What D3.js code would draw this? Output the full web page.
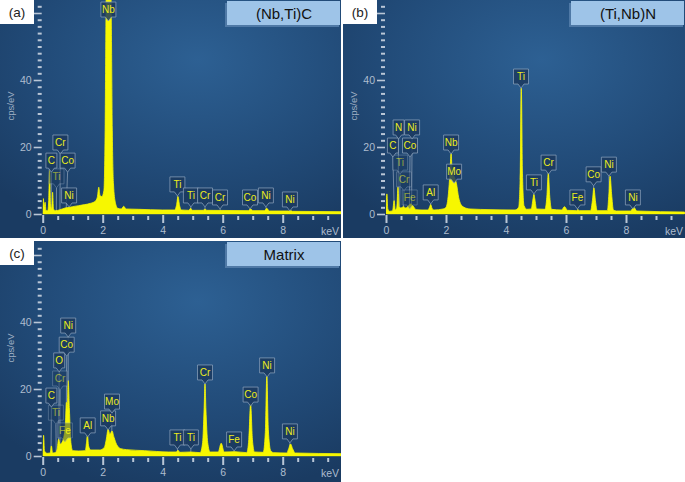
<!DOCTYPE html>
<html>
<head>
<meta charset="utf-8">
<script src="https://cdnjs.cloudflare.com/ajax/libs/d3/7.8.5/d3.min.js"></script>
<style>
body { margin: 0; background: #fff; }
svg { display: block; font-family: "Liberation Sans", Arial, sans-serif; }
</style>
</head>
<body>
<div id="chart"></div>
<script>
// spectra: [keV, cps/eV]
var specA = [[0.00,0.3],[0.02,4.6],[0.05,2.0],[0.08,3.5],[0.11,1.0],[0.17,1.0],[0.20,4],[0.23,13],[0.26,3],
    [0.30,1.5],[0.33,6.5],[0.36,1.5],[0.42,1.0],[0.55,1.2],[0.65,1.5],[0.75,1.8],[0.90,2.0],[1.00,2.2],
    [1.20,2.5],[1.40,2.8],[1.60,3.2],[1.75,3.8],[1.82,5],[1.87,8],[1.91,5.5],[1.97,5.2],[2.04,7],[2.08,25],
    [2.11,60],[2.14,85],[2.25,85],[2.29,55],[2.32,25],[2.36,9],[2.42,3.5],[2.50,1.7],[2.62,1.5],[2.70,2.3],
    [2.78,1.5],[3.20,1.4],[4.00,1.2],[4.40,1.2],[4.46,2.6],[4.51,5.2],[4.56,2.6],[4.62,1.2],[4.87,1.1],
    [4.93,1.7],[4.99,1.1],[5.35,1.1],[5.41,1.5],[5.47,1.1],[6.85,1.0],[6.93,1.5],[7.01,1.0],[7.39,1.0],
    [7.47,1.7],[7.55,0.9],[8.20,0.9],[8.26,1.1],[8.32,0.8],[9.95,0.7]];

var specB = [[0.00,0.5],[0.03,6],[0.06,1.5],[0.12,0.8],[0.22,1],[0.27,4],[0.31,1.2],[0.36,2],[0.40,8],
    [0.44,2],[0.50,1.8],[0.58,2.2],[0.66,1.8],[0.75,2.5],[0.82,3.0],[0.90,2.4],[1.00,1.3],[1.20,1.2],
    [1.40,1.2],[1.45,2.0],[1.49,2.8],[1.53,1.8],[1.60,1.2],[1.90,1.5],[2.00,2.0],[2.08,6],[2.13,12],
    [2.17,18],[2.21,12],[2.28,11],[2.35,9],[2.42,5],[2.50,2.8],[2.60,2],[2.80,1.5],[3.50,1.3],[4.30,1.2],
    [4.42,2],[4.47,10],[4.51,37.5],[4.55,12],[4.60,2.5],[4.70,1.4],[4.84,1.5],[4.90,4.5],[4.93,5.8],
    [4.96,4.5],[5.02,1.5],[5.30,1.4],[5.36,5],[5.41,12.2],[5.46,5],[5.52,1.4],[5.85,1.2],[5.95,2.2],
    [6.05,1.1],[6.35,1.0],[6.40,1.3],[6.45,1.0],[6.82,1.0],[6.88,4],[6.93,7.8],[6.98,4],[7.04,1.0],
    [7.38,1.0],[7.43,6],[7.47,11.3],[7.52,6],[7.58,1.2],[7.68,0.9],[8.15,0.9],[8.26,2.0],[8.36,0.9],
    [9.95,0.6]];

var specC = [[0.00,0.5],[0.03,6.2],[0.06,1.5],[0.15,0.8],[0.25,0.9],[0.29,3.0],[0.33,0.9],[0.42,1.0],
    [0.48,2],[0.53,5.0],[0.58,3.5],[0.64,4],[0.70,5.5],[0.76,10],[0.79,16],[0.82,14],[0.85,22.5],
    [0.89,14],[0.94,4],[1.00,1.6],[1.20,1.5],[1.42,1.6],[1.46,4],[1.49,6.2],[1.53,3],[1.60,1.8],
    [1.90,1.8],[2.05,2.5],[2.12,5],[2.18,8],[2.24,6.5],[2.31,7.5],[2.38,5.5],[2.46,3.5],[2.60,2.2],
    [2.80,1.9],[3.40,1.6],[4.20,1.2],[4.45,1.2],[4.51,1.7],[4.57,1.1],[4.93,1.2],[5.25,1.0],[5.33,4],
    [5.38,14],[5.41,21.5],[5.44,14],[5.50,4],[5.58,1.2],[5.85,1.2],[5.95,3.8],[6.05,1.2],[6.40,1.3],
    [6.80,1.0],[6.87,5],[6.93,15.5],[6.99,5],[7.06,1.2],[7.35,1.1],[7.42,7],[7.47,23.8],[7.52,8],
    [7.60,1.6],[7.70,1.0],[8.13,0.9],[8.20,2.2],[8.26,3.6],[8.33,2.2],[8.42,0.9],[9.95,0.7]];

// peak labels: [element, line keV, label keV, label level cps, faint]
var labelsA = [['Nb',2.17,2.19,58.8],['Cr',0.573,0.59,19.1],['Ti',0.452,0.46,9.0,1],['C',0.277,0.29,13.7],
    ['Co',0.776,0.83,13.7],['Ni',0.851,0.88,3.3],['Ti',4.51,4.49,6.6],['Ti',4.93,4.94,3.3],
    ['Cr',5.41,5.41,3.3],['Cr',5.95,5.91,2.7],['Co',6.93,6.91,2.7],['Ni',7.47,7.44,3.3],['Ni',8.26,8.24,2.1]];

var labelsB = [['Fe',0.705,0.79,2.7,1],['Cr',0.573,0.6,8.1,1],['Ti',0.452,0.47,13.1,1],['C',0.277,0.23,18.2],
    ['Co',0.776,0.80,18.2],['N',0.392,0.42,23.6],['Ni',0.851,0.87,23.6],['Al',1.486,1.49,4.2],
    ['Mo',2.293,2.27,10.4],['Nb',2.166,2.17,19.1],['Ti',4.51,4.5,38.8],['Ti',4.93,4.93,7.2],
    ['Cr',5.41,5.42,13.1],['Fe',6.40,6.38,2.7],['Co',6.93,6.92,9.6],['Ni',7.47,7.43,12.5],['Ni',8.26,8.23,2.7]];

var labelsC = [['Fe',0.705,0.74,5.4,1],['Ti',0.452,0.44,10.7,1],['Cr',0.573,0.58,20.9,1],['C',0.277,0.29,15.8],
    ['O',0.525,0.55,26.3],['Co',0.776,0.8,31.0],['Ni',0.851,0.85,36.7],['Al',1.486,1.5,6.9],
    ['Nb',2.166,2.18,9.0],['Mo',2.293,2.31,14.0],['Ti',4.51,4.49,3.3],['Ti',4.93,4.94,3.3],
    ['Cr',5.41,5.41,22.7],['Fe',6.40,6.38,2.7],['Co',6.93,6.93,16.1],['Ni',7.47,7.48,24.8],['Ni',8.26,8.24,5.1]];

var xMajor = [0, 2, 4, 6, 8];
var yMajor = [0, 20, 40, 60];
var yLabelled = [0, 20, 40];   // the 60 label sits under the tag box
var tags = ['(a)', '(b)', '(c)'];
var titles = ['(Nb,Ti)C', '(Ti,Nb)N', 'Matrix'];

var svgWidth = 685;
var svgHeight = 482;

var svg = d3.select('#chart')
    .append('svg')
    .attr('width', svgWidth)
    .attr('height', svgHeight);

var defs = svg.append('defs');
var grad = defs.append('radialGradient')
    .attr('id', 'bg')
    .attr('cx', '58%').attr('cy', '25%').attr('r', '80%');
grad.append('stop').attr('offset', '0%').attr('stop-color', '#2d6093');
grad.append('stop').attr('offset', '60%').attr('stop-color', '#214a77');
grad.append('stop').attr('offset', '100%').attr('stop-color', '#1a3b62');

var panels = [
    {tx: 0, ty: 0, w: 341, h: 238, x0: 42.7, y0: 214, spec: specA, labels: labelsA},
    {tx: 343, ty: 0, w: 342, h: 238, x0: 43, y0: 214, spec: specB, labels: labelsB},
    {tx: 0, ty: 241, w: 341, h: 241, x0: 42.7, y0: 215, spec: specC, labels: labelsC}
];

panels.forEach(function(p, i) {
    var g = svg.append('g').attr('transform', `translate(${p.tx},${p.ty})`);

    var x = d3.scaleLinear().domain([0, 10]).range([p.x0, p.x0 + 300]);
    var y = d3.scaleLinear().domain([0, 60]).range([p.y0, p.y0 - 201]);

    g.append('rect')
        .attr('width', p.w).attr('height', p.h)
        .attr('fill', 'url(#bg)');

    // y ticks
    var yMinor = d3.range(0, 63, 2).filter(v => yMajor.indexOf(v) < 0);
    g.append('g')
        .attr('transform', `translate(${p.x0 - 1},0)`)
        .call(d3.axisLeft(y).tickValues(yMinor).tickSize(4).tickFormat(''))
        .call(a => a.select('.domain').remove())
        .call(a => a.selectAll('line').attr('stroke', '#b9c6d6').attr('stroke-width', 2));
    g.append('g')
        .attr('transform', `translate(${p.x0 - 1},0)`)
        .call(d3.axisLeft(y).tickValues(yMajor).tickSize(8).tickPadding(2)
            .tickFormat(v => yLabelled.indexOf(v) >= 0 ? v : ''))
        .call(a => a.select('.domain').remove())
        .call(a => a.selectAll('line').attr('stroke', '#b9c6d6').attr('stroke-width', 1.6))
        .call(a => a.selectAll('text').attr('fill', '#aebdcf').style('font-size', '10.5px')
            .style('font-family', '"Liberation Sans", Arial, sans-serif'));

    // x ticks
    var xMinor = d3.range(0.5, 10, 0.5).filter(v => v % 2 !== 0);
    g.append('g')
        .attr('transform', `translate(0,${p.y0 + 2})`)
        .call(d3.axisBottom(x).tickValues(xMinor).tickSize(4).tickFormat(''))
        .call(a => a.select('.domain').remove())
        .call(a => a.selectAll('line').attr('stroke', '#b9c6d6').attr('stroke-width', 2));
    g.append('g')
        .attr('transform', `translate(0,${p.y0 + 1})`)
        .call(d3.axisBottom(x).tickValues(xMajor).tickSize(8).tickPadding(4))
        .call(a => a.select('.domain').remove())
        .call(a => a.selectAll('line').attr('stroke', '#b9c6d6').attr('stroke-width', 2))
        .call(a => a.selectAll('text').attr('fill', '#aebdcf').style('font-size', '10.5px')
            .style('font-family', '"Liberation Sans", Arial, sans-serif'));

    g.append('text')
        .attr('x', p.w - 2).attr('y', p.y0 + 21)
        .attr('text-anchor', 'end')
        .attr('fill', '#aebdcf')
        .style('font-size', '10.5px')
        .text('keV');

    g.append('text')
        .attr('transform', `translate(14,${p.y0 - 108}) rotate(-90)`)
        .attr('text-anchor', 'middle')
        .attr('fill', '#9fb0c4')
        .style('font-size', '9.5px')
        .text('cps/eV');

    // clipped plot area
    defs.append('clipPath').attr('id', 'clip' + i)
        .append('rect').attr('x', p.x0).attr('y', 0)
        .attr('width', p.w - p.x0).attr('height', p.y0 + 0.5);
    var plot = g.append('g').attr('clip-path', `url(#clip${i})`);

    // leader lines behind the spectrum
    plot.selectAll('line.leader')
        .data(p.labels)
        .enter()
        .append('line')
        .attr('x1', d => x(d[2])).attr('y1', d => y(d[3]) + 4)
        .attr('x2', d => x(d[1])).attr('y2', y(0))
        .attr('stroke', '#c9d3df')
        .attr('stroke-opacity', 0.55)
        .attr('stroke-width', 0.9);

    var area = d3.area()
        .x(d => x(d[0]))
        .y0(y(0))
        .y1(d => y(d[1]))
        .curve(d3.curveMonotoneX);

    plot.append('path')
        .datum(p.spec)
        .attr('d', area)
        .attr('fill', '#f7f700')
        .attr('stroke', '#f7f700')
        .attr('stroke-width', 0.8);

    // peak labels
    var lab = g.selectAll('g.lab')
        .data(p.labels)
        .enter()
        .append('g')
        .attr('class', 'lab')
        .attr('opacity', d => d[4] ? 0.55 : 1);

    lab.each(function(d) {
        var el = d3.select(this);
        var cx = x(d[2]);
        var b = y(d[3]);
        var wBox = d[0].length === 1 ? 11 : 15;
        var l = cx - wBox / 2, r = cx + wBox / 2, t = b - 15;
        el.append('path')
            .attr('d', `M${l},${t}H${r}V${b}H${cx + 3}L${cx},${b + 4}L${cx - 3},${b}H${l}Z`)
            .attr('fill', '#1b3a5f')
            .attr('fill-opacity', 0.85)
            .attr('stroke', '#8ea4bd')
            .attr('stroke-opacity', 0.8)
            .attr('stroke-width', 0.9);
        el.append('text')
            .attr('x', cx).attr('y', b - 4)
            .attr('text-anchor', 'middle')
            .attr('fill', '#ecec1c')
            .style('font-size', '10px')
            .text(d[0]);
    });

    // panel tag and title boxes
    g.append('rect')
        .attr('x', 0).attr('y', 0).attr('width', 34).attr('height', 24)
        .attr('fill', '#fff');
    g.append('text')
        .attr('x', 17).attr('y', 17)
        .attr('text-anchor', 'middle')
        .attr('fill', '#222')
        .style('font-size', '13.5px')
        .text(tags[i]);

    g.append('rect')
        .attr('x', p.w - 116).attr('y', 3).attr('width', 114).attr('height', 24)
        .attr('fill', '#4f79a6');
    g.append('rect')
        .attr('x', p.w - 114).attr('y', 1).attr('width', 113).attr('height', 24)
        .attr('fill', '#9ec4e8');
    g.append('text')
        .attr('x', p.w - 57).attr('y', 18.5)
        .attr('text-anchor', 'middle')
        .attr('fill', '#111')
        .style('font-size', '15px')
        .text(titles[i]);
});
</script>
</body>
</html>
